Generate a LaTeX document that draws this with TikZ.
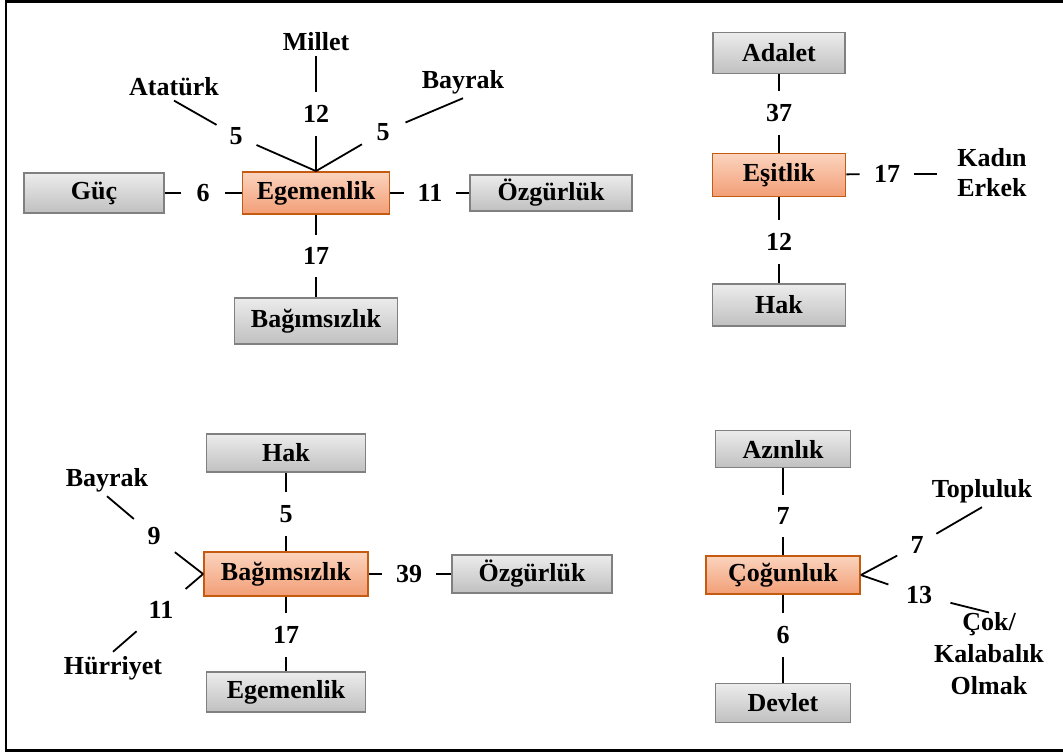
\documentclass[tikz,border=0pt]{standalone}
\usepackage{fontspec}
\setmainfont{Liberation Serif}
\definecolor{grayTop}{RGB}{236,236,236}
\definecolor{grayBot}{RGB}{192,192,192}
\definecolor{grayLine}{RGB}{128,128,128}
\definecolor{orTop}{RGB}{251,212,190}
\definecolor{orBot}{RGB}{242,158,118}
\definecolor{orLine}{RGB}{197,90,17}
\begin{document}
\begin{tikzpicture}[x=0.5pt,y=-0.5pt,
  lbl/.style={font=\bfseries\fontsize{13}{15}\selectfont, inner sep=2pt, align=center},
  box/.style={lbl, line width=0.9pt, inner sep=0pt},
  graybox/.style={box, draw=grayLine, top color=grayTop, bottom color=grayBot},
  orangebox/.style={box, draw=orLine, top color=orTop, bottom color=orBot},
  num/.style={font=\bfseries\fontsize{13}{15}\selectfont, circle, inner sep=0pt, minimum size=#1},
  num/.default=22pt,
  conn/.style={line width=0.9pt, black}]
\useasboundingbox (0,0) rectangle (1063,753);
\draw[line width=1.1pt] (1063,1.5) -- (6,1.5) -- (6,750.5) -- (1063,750.5);

% ---------- top-left: Egemenlik ----------
\node[graybox, minimum width=70pt, minimum height=20pt] (guc) at (94,193) {Güç};
\node[orangebox, minimum width=73.5pt, minimum height=21pt] (eg1) at (316,193) {Egemenlik};
\node[graybox, minimum width=81pt, minimum height=18pt] (ozg1) at (551,193) {Özgürlük};
\node[graybox, minimum width=81.5pt, minimum height=23pt] (bag1) at (316,321) {Bağımsızlık};
\node[lbl] (millet) at (316,42) {Millet};
\node[lbl] (ataturk) at (174,87) {Atatürk};
\node[lbl] (bayrak1) at (463,82) {Bayrak};
\node[num] (n12a) at (316,114) {12};
\node[num] (n5a) at (236,136) {5};
\node[num=24pt] (n5b) at (383,132) {5};
\node[num] (n6a) at (203,193) {6};
\node[num=26pt] (n11a) at (430,193) {11};
\node[num=21pt] (n17a) at (316,256) {17};
\draw[conn] (eg1.north) -- (n12a) -- (millet);
\draw[conn] (eg1.north) -- (n5a) -- (ataturk.south);
\draw[conn] (eg1.north) -- (n5b) -- (bayrak1.south);
\draw[conn] (guc) -- (n6a) -- (eg1);
\draw[conn] (eg1) -- (n11a) -- (ozg1);
\draw[conn] (eg1) -- (n17a) -- (bag1);

% ---------- top-right: Eşitlik ----------
\node[graybox, minimum width=66pt, minimum height=20.5pt] (adalet) at (779,53) {Adalet};
\node[orangebox, minimum width=66.5pt, minimum height=21.5pt] (esit) at (779,175) {Eşitlik};
\node[graybox, minimum width=66.5pt, minimum height=21pt] (hak1) at (779,305) {Hak};
\node[lbl] (kadin) at (992,173) {Kadın\\Erkek};
\node[num] (n37) at (779,113) {37};
\node[num] (n12b) at (779,242) {12};
\node[num=27pt] (n17b) at (887,174) {17};
\draw[conn] (adalet) -- (n37) -- (esit);
\draw[conn] (esit) -- (n12b) -- (hak1);
\draw[conn] (esit) -- (n17b);
\draw[conn, shorten >=8pt] (n17b) -- (kadin.west |- n17b);

% ---------- bottom-left: Bağımsızlık ----------
\node[graybox, minimum width=79.5pt, minimum height=19pt] (hak2) at (286,453) {Hak};
\node[orangebox, minimum width=82pt, minimum height=22pt] (bag2) at (286,574) {Bağımsızlık};
\node[graybox, minimum width=79.5pt, minimum height=20pt] (egem2) at (286,692) {Egemenlik};
\node[graybox, minimum width=80pt, minimum height=19pt] (ozg2) at (532,574) {Özgürlük};
\node[lbl] (bayrak2) at (107,480) {Bayrak};
\node[lbl] (hurriyet) at (113,668) {Hürriyet};
\node[num] (n5c) at (286,514) {5};
\node[num] (n17c) at (286,635) {17};
\node[num=27pt] (n39) at (409,574) {39};
\node[num=26pt] (n9) at (154,536) {9};
\node[num=32pt] (n11b) at (161,610) {11};
\draw[conn] (hak2) -- (n5c) -- (bag2);
\draw[conn] (bag2) -- (n17c) -- (egem2);
\draw[conn] (bag2) -- (n39) -- (ozg2);
\draw[conn] (bag2.west) -- (n9) -- (bayrak2.south);
\draw[conn] (bag2.west) -- (n11b) -- (hurriyet.north);

% ---------- bottom-right: Çoğunluk ----------
\node[graybox, minimum width=67.5pt, minimum height=18.5pt] (azin) at (783,449) {Azınlık};
\node[orangebox, minimum width=77pt, minimum height=19pt] (cog) at (783,575) {Çoğunluk};
\node[graybox, minimum width=67.5pt, minimum height=19.5pt] (devlet) at (783,703) {Devlet};
\node[lbl] (topluluk) at (982,491) {Topluluk};
\node[lbl, font=\bfseries\fontsize{13}{16}\selectfont, inner sep=0pt] (cok) at (989,654) {Çok/\\Kalabalık\\Olmak};
\node[num=21pt] (n7a) at (783,516) {7};
\node[num] (n6b) at (783,635) {6};
\node[num] (n7b) at (917,545) {7};
\node[num=32pt] (n13) at (919,595) {13};
\draw[conn] (azin) -- (n7a) -- (cog);
\draw[conn] (cog) -- (n6b) -- (devlet);
\draw[conn] (cog.east) -- (n7b) -- (topluluk.south);
\draw[conn] (cog.east) -- (n13) -- (cok.north);
\end{tikzpicture}
\end{document}
